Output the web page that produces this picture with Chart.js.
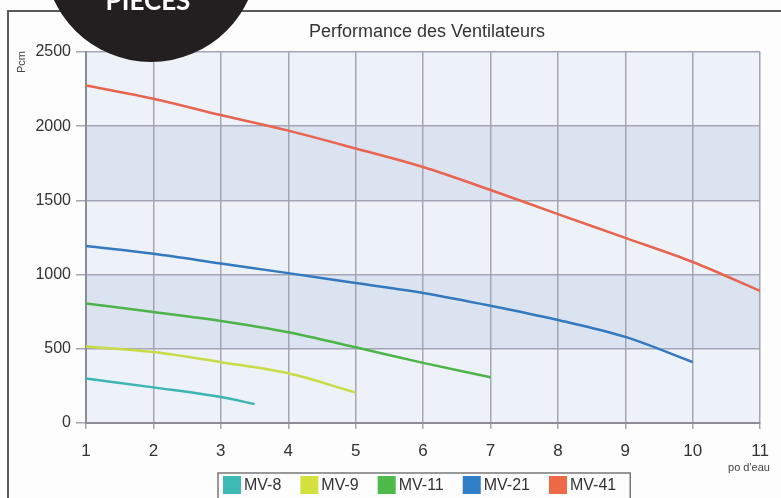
<!DOCTYPE html>
<html>
<head>
<meta charset="utf-8">
<script src="https://cdn.jsdelivr.net/npm/chart.js@4"></script>
<style>
  html, body { margin: 0; padding: 0; background: #fdfdfd; }
  #wrap { position: relative; width: 781px; height: 498px; }
</style>
</head>
<body>
<div id="wrap"><canvas id="fanChart" width="781" height="498"></canvas></div>
<script>
const chartTitle = 'Performance des Ventilateurs';
const seriesNames = ['MV-8', 'MV-9', 'MV-11', 'MV-21', 'MV-41'];
const seriesColors = ['#3cb4b2', '#c9db45', '#4cb449', '#3279bf', '#e8644f'];
const legendColors = ['#3dbab5', '#d3e03d', '#4dba4a', '#2f7fc6', '#ee6a47'];

// pression (po d'eau) et débit (Pcm) par ventilateur
const mv8X = [1, 2, 3, 3.5];
const mv8Y = [300, 240, 175, 128];
const mv9X = [1, 2, 3, 4, 5];
const mv9Y = [515, 478, 410, 335, 205];
const mv11X = [1, 2, 3, 4, 5, 6, 7];
const mv11Y = [805, 748, 688, 612, 510, 405, 308];
const mv21X = [1, 2, 3, 4, 5, 6, 7, 8, 9, 10];
const mv21Y = [1193, 1140, 1075, 1010, 943, 876, 790, 694, 580, 410];
const mv41X = [1, 2, 3, 4, 5, 6, 7, 8, 9, 10, 11];
const mv41Y = [2275, 2185, 2075, 1970, 1850, 1725, 1570, 1408, 1247, 1085, 890];

const xTicks = [1, 2, 3, 4, 5, 6, 7, 8, 9, 10, 11];
const yTicks = [0, 500, 1000, 1500, 2000, 2500];
const shadedBands = [[500, 1000], [1500, 2000]];

const allX = [mv8X, mv9X, mv11X, mv21X, mv41X];
const allY = [mv8Y, mv9Y, mv11Y, mv21Y, mv41Y];

const FONT = '"Liberation Sans", Arial, sans-serif';
const gridColor = '#a5a4b5';

const datasets = seriesNames.map((name, i) => ({
  label: name,
  data: allX[i].map((x, j) => ({ x: x, y: allY[i][j] })),
  borderColor: seriesColors[i],
  backgroundColor: seriesColors[i],
  borderWidth: 2.5,
  pointRadius: 0,
  tension: 0.3,
  cubicInterpolationMode: 'monotone',
  fill: false
}));

const decorPlugin = {
  id: 'decor',
  beforeDraw(chart) {
    const c = chart.ctx;
    const a = chart.chartArea;
    const y = chart.scales.y;
    c.save();
    c.fillStyle = '#fdfdfd';
    c.fillRect(0, 0, chart.width, chart.height);
    c.fillStyle = '#edf2f9';
    c.fillRect(a.left, a.top, a.right - a.left, a.bottom - a.top);
    c.fillStyle = '#dbe3f0';
    shadedBands.forEach(b => {
      const top = y.getPixelForValue(b[1]);
      const bot = y.getPixelForValue(b[0]);
      c.fillRect(a.left, top, a.right - a.left, bot - top);
    });
    c.restore();
  },
  afterDraw(chart) {
    const c = chart.ctx;
    c.save();
    // cadre
    c.strokeStyle = '#5a5a5a';
    c.lineWidth = 2;
    c.beginPath();
    c.moveTo(8, 498);
    c.lineTo(8, 11);
    c.lineTo(781, 11);
    c.stroke();

    // titre
    c.fillStyle = '#333';
    c.font = '18px ' + FONT;
    c.textAlign = 'center';
    c.textBaseline = 'middle';
    c.fillText(chartTitle, 427, 32);

    // unités
    c.font = '11px ' + FONT;
    c.fillStyle = '#444';
    c.fillText("po d'eau", 749, 468);
    c.save();
    c.translate(22, 62);
    c.rotate(-Math.PI / 2);
    c.fillText('Pcm', 0, 0);
    c.restore();

    // légende
    c.font = '16px ' + FONT;
    c.textAlign = 'left';
    let x = 223;
    const sw = 18, gap = 3, itemGap = 19;
    const boxLeft = 218;
    seriesNames.forEach((name, i) => {
      c.fillStyle = legendColors[i];
      c.fillRect(x, 476, sw, 18);
      c.fillStyle = '#333';
      c.fillText(name, x + sw + gap, 486);
      x += sw + gap + c.measureText(name).width + itemGap;
    });
    const boxRight = x - itemGap + 14;
    c.strokeStyle = '#777';
    c.lineWidth = 1.5;
    c.strokeRect(boxLeft, 473, boxRight - boxLeft, 30);

    // pastille
    c.fillStyle = '#231f20';
    c.beginPath();
    c.arc(151, -45, 107, 0, Math.PI * 2);
    c.fill();
    c.fillStyle = '#ffffff';
    c.font = 'bold 26px Lato, "Open Sans", sans-serif';
    c.textAlign = 'center';
    c.textBaseline = 'alphabetic';
    c.fillText('PIECES', 148, 10);
    c.restore();
  }
};

new Chart(document.getElementById('fanChart'), {
  type: 'line',
  data: { datasets: datasets },
  plugins: [decorPlugin],
  options: {
    responsive: false,
    animation: false,
    layout: { padding: { left: 0, right: 15, top: 52, bottom: 0 } },
    plugins: {
      legend: { display: false },
      title: { display: false },
      tooltip: { enabled: false }
    },
    scales: {
      x: {
        type: 'linear',
        min: 1,
        max: 11,
        afterBuildTicks: s => { s.ticks = xTicks.map(v => ({ value: v })); },
        afterFit: s => { s.height = 75; },
        ticks: {
          color: '#333',
          padding: 12,
          font: { family: FONT, size: 17 },
          callback: v => String(v)
        },
        grid: { color: gridColor, lineWidth: 1.5, tickLength: 6, tickColor: gridColor },
        border: { color: '#8c8c94', width: 2 }
      },
      y: {
        min: 0,
        max: 2500,
        afterBuildTicks: s => { s.ticks = yTicks.map(v => ({ value: v })); },
        afterFit: s => { s.width = 86; },
        ticks: {
          color: '#333',
          padding: 5,
          font: { family: FONT, size: 16 },
          callback: v => String(v)
        },
        grid: { color: gridColor, lineWidth: 1.5, tickLength: 10, tickColor: gridColor },
        border: { color: '#8c8c94', width: 2 }
      }
    }
  }
});
</script>
</body>
</html>
